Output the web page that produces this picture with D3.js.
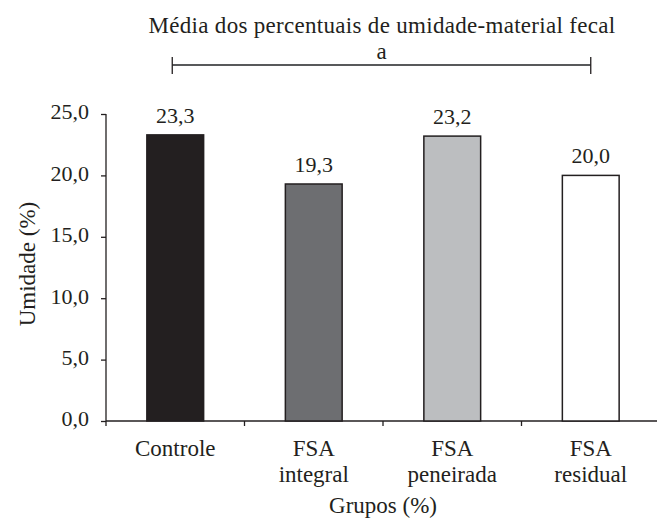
<!DOCTYPE html>
<html>
<head>
<meta charset="utf-8">
<script src="https://cdn.jsdelivr.net/npm/d3@7"></script>
<style>
  body { margin: 0; background: #fff; }
</style>
</head>
<body>
<svg id="chart" width="657" height="525"></svg>
<script>
// dados
const grupos = ["Controle", "FSA integral", "FSA peneirada", "FSA residual"];
const umidade = [23.3, 19.3, 23.2, 20.0];
const cores = ["#231f20", "#6d6e71", "#bcbec0", "#ffffff"];
const yTicks = [0, 5, 10, 15, 20, 25];

const svg = d3.select("#chart")
  .attr("font-family", "Liberation Serif")
  .attr("fill", "#231f20");

const mLeft = 106, mRight = 660, mTop = 114, mBottom = 421;

const x = d3.scaleBand().domain(grupos).range([mLeft, mRight]);
const y = d3.scaleLinear().domain([0, 25]).range([mBottom, mTop]);

const fmt = v => d3.format(".1f")(v).replace(".", ",");

// eixo y
const yAxis = svg.append("g")
  .attr("transform", "translate(" + mLeft + ",0)")
  .call(d3.axisLeft(y).tickValues(yTicks).tickSize(5).tickPadding(12).tickFormat(fmt));
yAxis.attr("font-family", "Liberation Serif").attr("font-size", 22);
yAxis.select(".domain").attr("stroke", "#231f20").attr("stroke-width", 1.3).attr("d", "M0," + y(25) + "V" + y(0));
yAxis.selectAll(".tick line").attr("stroke", "#231f20").attr("stroke-width", 1.3);
yAxis.selectAll(".tick text").attr("fill", "#231f20").attr("dy", "0.22em");

// eixo x
const xAxis = svg.append("g")
  .attr("transform", "translate(0," + mBottom + ")")
  .call(d3.axisBottom(x).tickSize(0).tickFormat(""));
xAxis.select(".domain").attr("stroke", "#231f20").attr("stroke-width", 1.3).attr("d", "M" + mLeft + ",0H" + mRight);
xAxis.selectAll(".tick").remove();

// marcas do eixo x entre grupos
svg.selectAll(".xtick")
  .data(grupos)
  .enter().append("line")
  .attr("x1", d => x(d))
  .attr("x2", d => x(d))
  .attr("y1", mBottom)
  .attr("y2", mBottom + 5)
  .attr("stroke", "#231f20")
  .attr("stroke-width", 1.3);

// barras
const bw = x.bandwidth() * 0.41;
svg.selectAll(".bar")
  .data(umidade)
  .enter().append("rect")
  .attr("x", (d, i) => x(grupos[i]) + x.bandwidth() / 2 - bw / 2)
  .attr("y", d => y(d))
  .attr("width", bw)
  .attr("height", d => y(0) - y(d))
  .attr("fill", (d, i) => cores[i])
  .attr("stroke", "#231f20")
  .attr("stroke-width", 1.5);

// valores
svg.selectAll(".val")
  .data(umidade)
  .enter().append("text")
  .text(d => fmt(d))
  .attr("x", (d, i) => x(grupos[i]) + x.bandwidth() / 2)
  .attr("y", d => y(d) - 12)
  .attr("text-anchor", "middle")
  .attr("font-size", 22);

// rótulos dos grupos
svg.selectAll(".cat")
  .data(grupos)
  .enter().append("text")
  .attr("x", d => x(d) + x.bandwidth() / 2)
  .attr("y", 456)
  .attr("text-anchor", "middle")
  .attr("font-size", 23)
  .each(function (d) {
    const parts = d.startsWith("FSA ") ? ["FSA", d.slice(4)] : [d];
    d3.select(this).selectAll("tspan")
      .data(parts)
      .enter().append("tspan")
      .attr("x", x(d) + x.bandwidth() / 2)
      .attr("dy", (p, i) => i === 0 ? 0 : 26)
      .text(p => p);
  });

// títulos dos eixos
svg.append("text")
  .text("Grupos (%)")
  .attr("x", (mLeft + mRight) / 2)
  .attr("y", 513)
  .attr("text-anchor", "middle")
  .attr("font-size", 23);

svg.append("text")
  .text("Umidade (%)")
  .attr("transform", "translate(35,264) rotate(-90)")
  .attr("text-anchor", "middle")
  .attr("font-size", 23);

// título e chave de significância
svg.append("text")
  .text("Média dos percentuais de umidade-material fecal")
  .attr("x", 382)
  .attr("y", 33)
  .attr("text-anchor", "middle")
  .attr("font-size", 23)
  .attr("letter-spacing", 0.3);

const bx1 = x(grupos[0]) + x.bandwidth() / 2 - 3;
const bx2 = x(grupos[3]) + x.bandwidth() / 2;
const by = 65;
svg.append("line").attr("x1", bx1).attr("x2", bx2).attr("y1", by).attr("y2", by)
  .attr("stroke", "#58595b").attr("stroke-width", 1.8);
svg.append("line").attr("x1", bx1).attr("x2", bx1).attr("y1", by - 8).attr("y2", by + 9)
  .attr("stroke", "#231f20").attr("stroke-width", 1.3);
svg.append("line").attr("x1", bx2).attr("x2", bx2).attr("y1", by - 8).attr("y2", by + 9)
  .attr("stroke", "#231f20").attr("stroke-width", 1.3);
svg.append("text")
  .text("a")
  .attr("x", (bx1 + bx2) / 2)
  .attr("y", 59)
  .attr("text-anchor", "middle")
  .attr("font-size", 23);
</script>
</body>
</html>
